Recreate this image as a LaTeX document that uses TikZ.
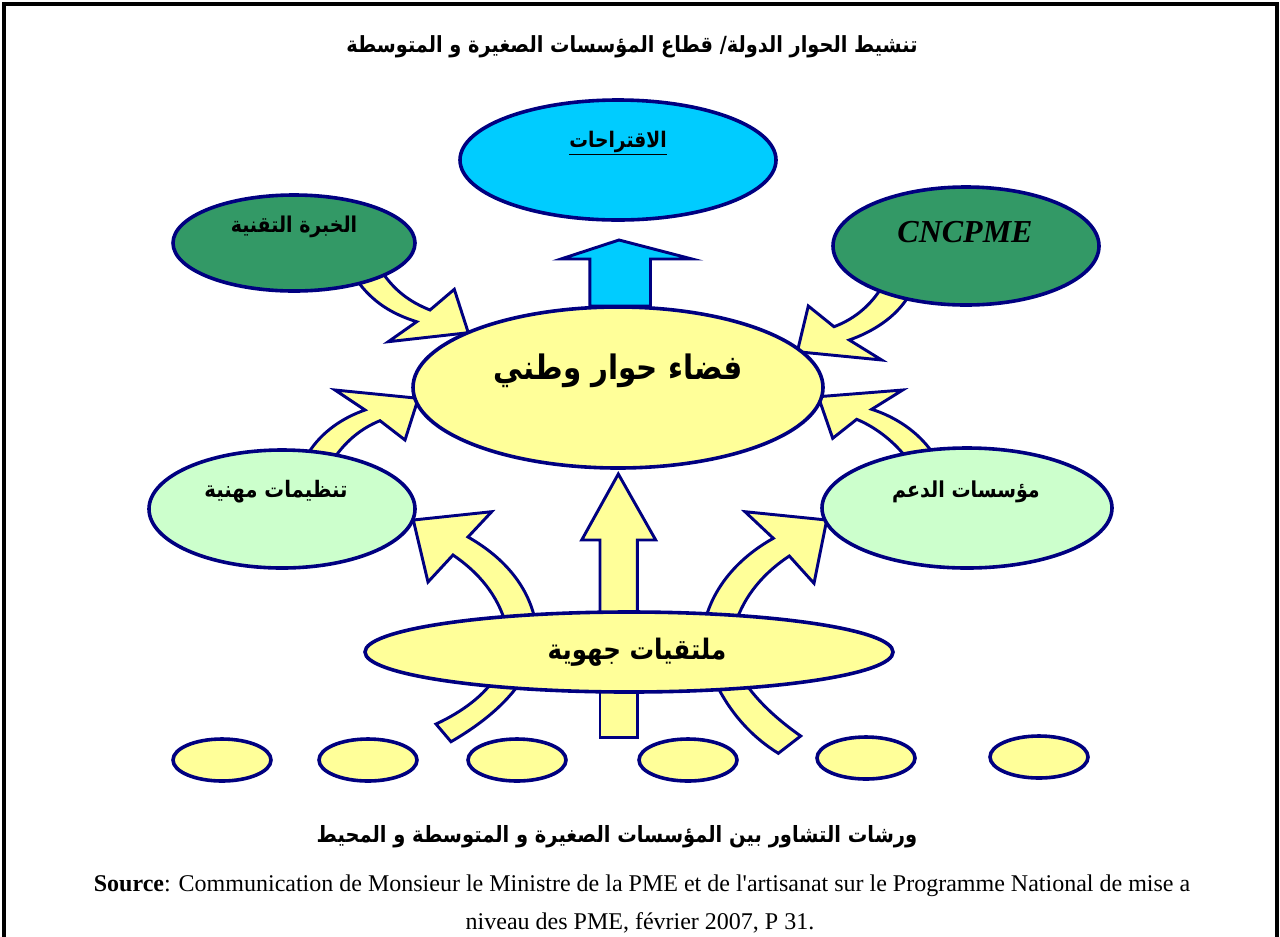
\documentclass[tikz,border=0pt]{standalone}
\usepackage{fontspec}
\usepackage{graphicx}
\TeXXeTstate=1
\newfontfamily\arabicfont[Script=Arabic]{DejaVu Sans}
\newfontfamily\srcfont{Liberation Serif}
\newcommand\artxt[1]{\scalebox{1}[1.15]{\beginR #1\endR}}
\begin{document}
\begin{tikzpicture}[x=0.75pt,y=-0.75pt,
  navyline/.style={draw={rgb,255:red,0;green,0;blue,128}},
  ell/.style={ellipse, navyline, line width=2.7pt, inner sep=0pt},
  blockarrow/.style={navyline, line width=2.2pt, line join=miter, fill={rgb,255:red,255;green,255;blue,153}},
  blueblock/.style={blockarrow, fill={rgb,255:red,0;green,204;blue,255}},
  artext/.style={font=\arabicfont\bfseries, inner sep=0pt},
  frameline/.style={draw=black, line width=2.4pt}
]
\usetikzlibrary{shapes.geometric}
\definecolor{dgreen}{RGB}{51,153,102}
\definecolor{lgreen}{RGB}{204,255,204}
\definecolor{pyellow}{RGB}{255,255,153}
\definecolor{skyblue}{RGB}{0,204,255}

\useasboundingbox (0,0) rectangle (1280,936);
\fill[white] (0,0) rectangle (1280,936);
\draw[frameline] (4,940) -- (4,4) -- (1277,4) -- (1277,940);

% ---- block arrows (drawn first, behind the ellipses)
% blue arrow up
\draw[blueblock] (589.8,306) -- (589.8,259) -- (561,259) -- (619,240) -- (692,259) -- (650.5,259) -- (650.5,306) -- cycle;
% top-left
\draw[blockarrow] (356,279) .. controls (372,302) and (392,314) .. (416.7,321.7) -- (388.3,341.7) -- (468.3,332.7) -- (454.3,289.3) -- (430,310) .. controls (410,302) and (395,291) .. (382,272) -- cycle;
% top-right
\draw[blockarrow] (880,290) .. controls (868,308) and (852,320) .. (834,326.7) -- (808.3,306) -- (797.3,351.7) -- (881.7,360) -- (849.3,340) .. controls (872,332) and (895,318) .. (908,297) -- cycle;
% middle-left
\draw[blockarrow] (309,452) .. controls (322,432) and (342,418) .. (365,410) -- (335,390) -- (418.3,398.3) -- (405,440) -- (380,420.7) .. controls (362,428) and (347,440) .. (335,457) -- cycle;
% middle-right
\draw[blockarrow] (932,452) .. controls (918,432) and (896,417) .. (871.7,409.3) -- (902.7,390) -- (818.3,396.7) -- (832.7,438.3) -- (856.7,419.3) .. controls (875,427) and (892,440) .. (905,456) -- cycle;
% lower-left
\draw[blockarrow] (536,625) .. controls (530,588) and (505,558) .. (468,537) -- (491.7,511.7) -- (413.3,520) -- (428,582) -- (453,555) .. controls (478,572) and (498,595) .. (506,625) -- cycle;
% lower-right
\draw[blockarrow] (704,625) .. controls (712,588) and (738,558) .. (773.3,538.3) -- (745,511.7) -- (826.7,520) -- (814,583.3) -- (789.3,556) .. controls (765,572) and (744,595) .. (735,625) -- cycle;
% central up
\draw[blockarrow] (600,625) -- (600,540) -- (581.7,540) -- (618.3,474) -- (655.7,540) -- (637.3,540) -- (637.3,625) -- cycle;
% tails below the regional ellipse
\draw[blockarrow] (600,675) -- (600,737.3) -- (637.3,737.3) -- (637.3,675) -- cycle;
\draw[blockarrow] (436,724) -- (451,741.7) .. controls (485,722) and (510,700) .. (525,675) -- (497,675) .. controls (485,695) and (462,712) .. (436,724) -- cycle;
\draw[blockarrow] (712,675) .. controls (728,712) and (752,737) .. (778.3,753.3) -- (800.7,736) .. controls (778,720) and (755,700) .. (740,675) -- cycle;

% ---- ellipses
\node[ell, fill=skyblue, minimum width=316*0.75pt, minimum height=120*0.75pt] (prop) at (618,160) {};
\node[ell, fill=dgreen, minimum width=242*0.75pt, minimum height=96*0.75pt] (expert) at (294,243) {};
\node[ell, fill=dgreen, minimum width=266*0.75pt, minimum height=118*0.75pt] (cnc) at (966,246) {};
\node[ell, fill=pyellow, minimum width=410*0.75pt, minimum height=161*0.75pt] (space) at (618,387.5) {};
\node[ell, fill=lgreen, minimum width=266*0.75pt, minimum height=118*0.75pt] (orgs) at (282,509) {};
\node[ell, fill=lgreen, minimum width=290*0.75pt, minimum height=120*0.75pt] (support) at (967,508) {};
\node[ell, fill=pyellow, minimum width=528*0.75pt, minimum height=80*0.75pt] (regional) at (629,652) {};
\node[ell, fill=pyellow, minimum width=98*0.75pt, minimum height=42*0.75pt] (s1) at (222,760) {};
\node[ell, fill=pyellow, minimum width=98*0.75pt, minimum height=42*0.75pt] (s2) at (368,760) {};
\node[ell, fill=pyellow, minimum width=98*0.75pt, minimum height=42*0.75pt] (s3) at (517,760) {};
\node[ell, fill=pyellow, minimum width=98*0.75pt, minimum height=42*0.75pt] (s4) at (688,760) {};
\node[ell, fill=pyellow, minimum width=98*0.75pt, minimum height=42*0.75pt] (s5) at (866,758) {};
\node[ell, fill=pyellow, minimum width=98*0.75pt, minimum height=42*0.75pt] (s6) at (1039,757) {};

% ---- texts
\node[artext, font=\arabicfont\bfseries\fontsize{14.5}{17}\selectfont] (title) at (632,47) {\artxt{تنشيط الحوار الدولة/ قطاع المؤسسات الصغيرة و المتوسطة}};
\node[artext, font=\arabicfont\bfseries\fontsize{14}{16}\selectfont] (propt) at (618,143) {\underline{\artxt{الاقتراحات}}};
\node[artext, font=\arabicfont\bfseries\fontsize{14.2}{16}\selectfont] (expertt) at (294,227) {\artxt{الخبرة التقنية}};
\node[inner sep=0pt, font=\srcfont\bfseries\itshape\fontsize{24}{28}\selectfont] (cnct) at (965,232) {CNCPME};
\node[artext, font=\arabicfont\bfseries\fontsize{22}{26}\selectfont] (spacet) at (618,371) {\artxt{فضاء حوار وطني}};
\node[artext, font=\arabicfont\bfseries\fontsize{14.8}{17}\selectfont] (orgst) at (276,492) {\artxt{تنظيمات مهنية}};
\node[artext, font=\arabicfont\bfseries\fontsize{14.3}{17}\selectfont] (supportt) at (966,492) {\artxt{مؤسسات الدعم}};
\node[artext, font=\arabicfont\bfseries\fontsize{18.4}{21}\selectfont] (regionalt) at (637,652) {\artxt{ملتقيات جهوية}};
\node[artext, font=\arabicfont\bfseries\fontsize{14.6}{17}\selectfont] (caption) at (617,837) {\artxt{ورشات التشاور بين المؤسسات الصغيرة و المتوسطة و المحيط}};
\node[inner sep=0pt, anchor=base, font=\srcfont\fontsize{18}{21}\selectfont] (src1) at (642,891) {\textbf{Source}: Communication de Monsieur le Ministre de la PME et de l'artisanat sur le Programme National de mise a};
\node[inner sep=0pt, anchor=base, font=\srcfont\fontsize{18}{21}\selectfont] (src2) at (640,929) {niveau des PME, février 2007, P 31.};
\end{tikzpicture}
\end{document}
